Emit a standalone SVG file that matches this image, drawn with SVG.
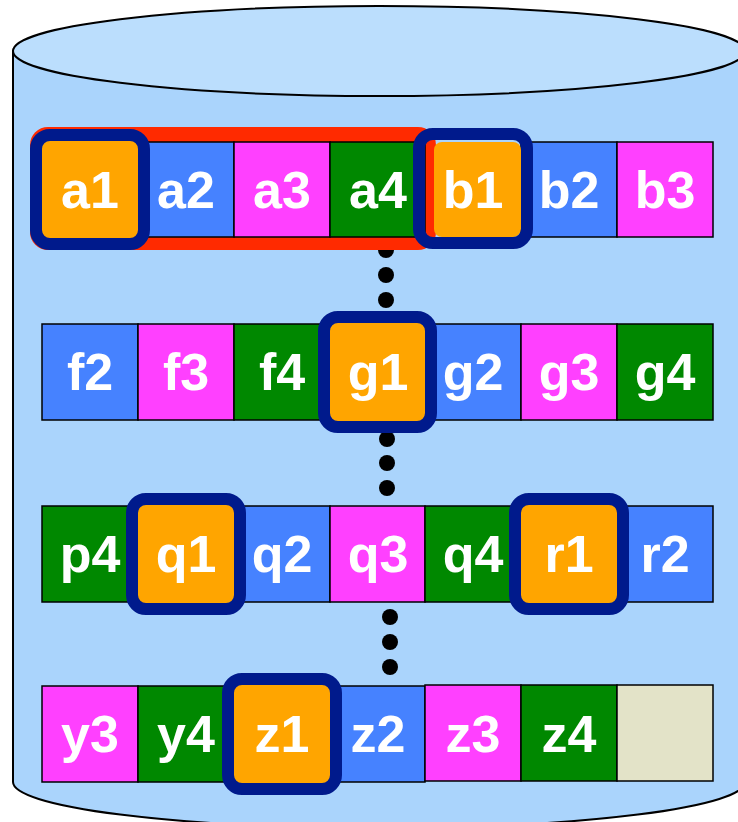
<svg xmlns="http://www.w3.org/2000/svg" width="738" height="822" viewBox="0 0 738 822">
<style>
.c{stroke:#000;stroke-width:1.5}
.O{fill:#ffa500}.B{fill:#4682ff}.M{fill:#ff40ff}.G{fill:#008800}.E{fill:#e3e3c8}
.t{font-family:"Liberation Sans",Arial,sans-serif;font-weight:bold;font-size:52px;fill:#fff;text-anchor:middle}
.h{stroke:#001a8c;stroke-width:12}
.dot{fill:#000}
</style>
<g id="cylinder">
<path d="M13,51 L13,782 A366,46 0 0 0 745,782 L745,51 Z" fill="#aad4fc" stroke="#000" stroke-width="2"/>
<ellipse cx="379" cy="51" rx="366" ry="45" fill="#bbdefd" stroke="#000" stroke-width="2"/>
</g>
<g id="ellipsis-dots">
<circle class="dot" cx="386" cy="250" r="8"/>
<circle class="dot" cx="386" cy="275" r="8"/>
<circle class="dot" cx="386" cy="300" r="8"/>
<circle class="dot" cx="387" cy="439" r="8"/>
<circle class="dot" cx="387" cy="463" r="8"/>
<circle class="dot" cx="387" cy="488" r="8"/>
<circle class="dot" cx="390" cy="617" r="8"/>
<circle class="dot" cx="390" cy="642" r="8"/>
<circle class="dot" cx="390" cy="667" r="8"/>
</g>
<g id="group-a">
<rect x="30" y="127" width="406" height="123" rx="18" fill="#ff2a00"/>
</g>
<g id="row1">
<g id="a2"><rect class="c B" x="138" y="142" width="96" height="95"/><text class="t" x="186" y="208">a2</text></g>
<g id="a3"><rect class="c M" x="234" y="142" width="96" height="95"/><text class="t" x="282" y="208">a3</text></g>
<g id="a4"><rect class="c G" x="330" y="142" width="95" height="95"/><text class="t" x="378" y="208">a4</text></g>
<g id="b2"><rect class="c B" x="521" y="142" width="96" height="95"/><text class="t" x="569" y="208">b2</text></g>
<g id="b3"><rect class="c M" x="617" y="142" width="96" height="95"/><text class="t" x="665" y="208">b3</text></g>
<g id="a1"><rect class="h O" x="36" y="135" width="108" height="109" rx="14"/><text class="t" x="90" y="208">a1</text></g>
<g id="b1"><rect class="O" x="434" y="142" width="87" height="95" rx="8"/><rect class="h" fill="none" x="419" y="134" width="108" height="109" rx="14"/><text class="t" x="473" y="208">b1</text></g>
</g>
<g id="row2">
<g id="f2"><rect class="c B" x="42" y="324" width="96" height="96"/><text class="t" x="90" y="390">f2</text></g>
<g id="f3"><rect class="c M" x="138" y="324" width="96" height="96"/><text class="t" x="186" y="390">f3</text></g>
<g id="f4"><rect class="c G" x="234" y="324" width="96" height="96"/><text class="t" x="282" y="390">f4</text></g>
<g id="g2"><rect class="c B" x="425" y="324" width="96" height="96"/><text class="t" x="473" y="390">g2</text></g>
<g id="g3"><rect class="c M" x="521" y="324" width="96" height="96"/><text class="t" x="569" y="390">g3</text></g>
<g id="g4"><rect class="c G" x="617" y="324" width="96" height="96"/><text class="t" x="665" y="390">g4</text></g>
<g id="g1"><rect class="h O" x="324" y="317" width="107" height="110" rx="14"/><text class="t" x="378" y="390">g1</text></g>
</g>
<g id="row3">
<g id="p4"><rect class="c G" x="42" y="506" width="96" height="96"/><text class="t" x="90" y="572">p4</text></g>
<g id="q2"><rect class="c B" x="234" y="506" width="96" height="96"/><text class="t" x="282" y="572">q2</text></g>
<g id="q3"><rect class="c M" x="330" y="506" width="95" height="96"/><text class="t" x="378" y="572">q3</text></g>
<g id="q4"><rect class="c G" x="425" y="506" width="96" height="96"/><text class="t" x="473" y="572">q4</text></g>
<g id="r2"><rect class="c B" x="617" y="506" width="96" height="96"/><text class="t" x="665" y="572">r2</text></g>
<g id="q1"><rect class="h O" x="132" y="499" width="108" height="110" rx="14"/><text class="t" x="186" y="572">q1</text></g>
<g id="r1"><rect class="h O" x="515" y="499" width="108" height="110" rx="14"/><text class="t" x="569" y="572">r1</text></g>
</g>
<g id="row4">
<g id="y3"><rect class="c M" x="42" y="686" width="96" height="96"/><text class="t" x="90" y="752">y3</text></g>
<g id="y4"><rect class="c G" x="138" y="686" width="96" height="96"/><text class="t" x="186" y="752">y4</text></g>
<g id="z2"><rect class="c B" x="330" y="686" width="95" height="96"/><text class="t" x="378" y="752">z2</text></g>
<g id="z3"><rect class="c M" x="425" y="685" width="96" height="96"/><text class="t" x="473" y="752">z3</text></g>
<g id="z4"><rect class="c G" x="521" y="685" width="96" height="96"/><text class="t" x="569" y="752">z4</text></g>
<g id="empty"><rect class="c E" x="617" y="685" width="96" height="96"/></g>
<g id="z1"><rect class="h O" x="228" y="679" width="108" height="110" rx="14"/><text class="t" x="282" y="752">z1</text></g>
</g>
</svg>
